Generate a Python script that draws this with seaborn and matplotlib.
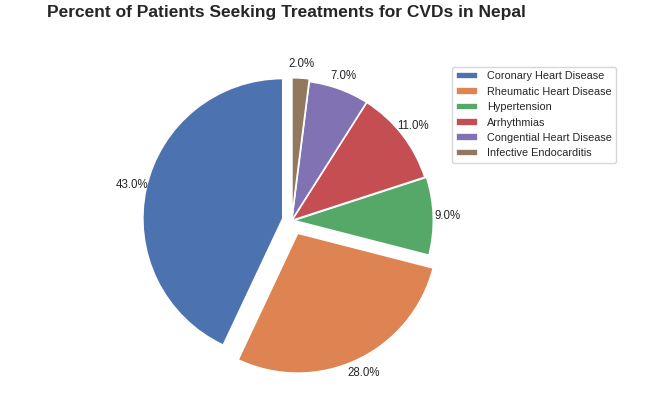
import matplotlib
matplotlib.use("Agg")
import matplotlib.pyplot as plt
import seaborn as sns

categories = ["Coronary Heart Disease", "Rheumatic Heart Disease", "Hypertension",
              "Arrhythmias", "Congential Heart Disease", "Infective Endocarditis"]
percentages = [43, 28, 9, 11, 7, 2]
explode = [0.065, 0.1, 0.012, 0, 0, 0.02]

sns.set_theme(style="white")
plt.rcParams["font.family"] = ["Liberation Sans", "DejaVu Sans"]

colors = sns.color_palette("deep", len(categories))

fig = plt.figure(figsize=(6.55, 3.97), dpi=100)
ax = fig.add_axes([116.7 / 655, 1.5 / 397, 350 / 655, 350 / 397])
wedges, texts, autotexts = ax.pie(
    percentages, explode=explode, colors=colors, startangle=90,
    autopct="%1.1f%%", pctdistance=1.1, counterclock=True,
    wedgeprops=dict(edgecolor="white", linewidth=1.2),
    textprops=dict(fontsize=8.3, color="#262626"))
ax.set_xlim(-1.25, 1.25)
ax.set_ylim(-1.25, 1.25)
ax.set_aspect("equal")

fig.text(286.5 / 655, 1 - 12 / 397, "Percent of Patients Seeking Treatments for CVDs in Nepal",
         ha="center", va="center", fontsize=12.5, fontweight="bold", color="#262626")

leg = ax.legend(wedges, categories, loc="upper left",
                bbox_to_anchor=(452 / 655, 1 - 67 / 397), bbox_transform=fig.transFigure,
                fontsize=7.8, frameon=True, handlelength=2.0, handletextpad=0.8,
                borderaxespad=0)
for t in leg.get_texts():
    t.set_color("#262626")

fig.savefig("out.png", dpi=100)
